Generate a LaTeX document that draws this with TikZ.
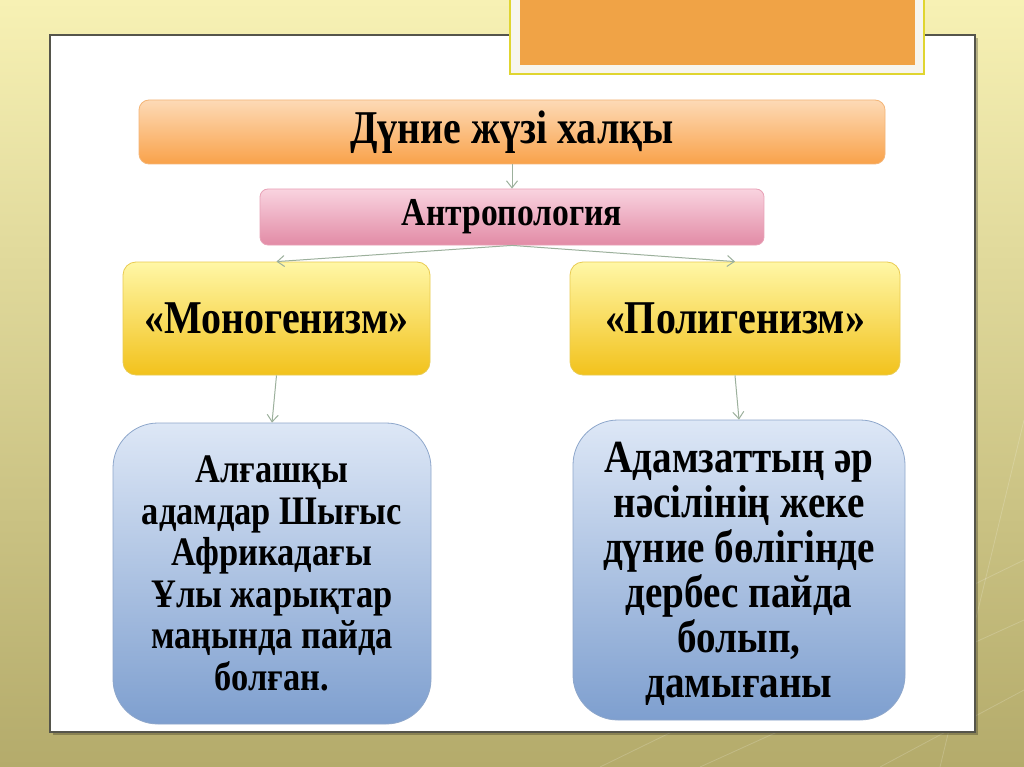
\documentclass[tikz,border=0pt]{standalone}
\usepackage{fontspec}
\setmainfont[FakeStretch=0.85]{Liberation Serif}
\usetikzlibrary{arrows.meta}
\definecolor{bgtop}{HTML}{F7F1B4}
\definecolor{bgbot}{HTML}{B4AB6B}
\definecolor{panelline}{HTML}{55554B}
\definecolor{hdrorange}{HTML}{F0A346}
\definecolor{hdrframe}{HTML}{E0D530}
\definecolor{hdrfill}{HTML}{F7F5EE}
\definecolor{orTop}{HTML}{FDDAB6}
\definecolor{orBot}{HTML}{F9A24A}
\definecolor{orLine}{HTML}{F4B577}
\definecolor{pkTop}{HTML}{F9D3DF}
\definecolor{pkMid}{HTML}{F191AF}
\definecolor{pkBot}{HTML}{E28BA6}
\definecolor{pkLine}{HTML}{E8A2B7}
\definecolor{ylTop}{HTML}{FFF7A6}
\definecolor{ylBot}{HTML}{F2C21C}
\definecolor{ylLine}{HTML}{E9CB50}
\definecolor{blTop}{HTML}{DDE7F6}
\definecolor{blBot}{HTML}{7E9FCF}
\definecolor{blLine}{HTML}{8EA7CB}
\definecolor{conn}{HTML}{9CB09C}
\tikzset{
  box/.style={rectangle, draw, line width=0.8pt, align=center, inner sep=4pt, text=black},
  orangebox/.style={box, draw=orLine, top color=orTop, bottom color=orBot, rounded corners=10pt},
  pinkbox/.style={box, draw=pkLine, top color=pkTop, middle color=pkMid, bottom color=pkBot, rounded corners=8pt},
  yellowbox/.style={box, draw=ylLine, top color=ylTop, bottom color=ylBot, rounded corners=13pt},
  bluebox/.style={box, draw=blLine, top color=blTop, bottom color=blBot, rounded corners=45pt},
  link/.style={draw=conn, line width=1pt, -{Straight Barb[length=7pt,width=11pt,line width=1pt]}},
}
\begin{document}
\begin{tikzpicture}[x=1pt,y=-1pt]
\useasboundingbox (0,0) rectangle (1024,767);
% background
\shade[top color=bgtop, bottom color=bgbot] (0,0) rectangle (1024,767);
\foreach \a/\b/\c/\d in {600/767/1024/560, 700/767/1024/620, 880/767/1024/690, 940/767/1024/420}
  \draw[white, opacity=0.18, line width=0.8pt] (\a,\b) -- (\c,\d);
% panel
\fill[black, opacity=0.25] (53,38) rectangle (978,735);
\draw[panelline, line width=1.2pt, fill=white] (50,35) rectangle (975,732);
% header
\draw[hdrframe, line width=1.5pt, fill=hdrfill] (510,-5) rectangle (924,74);
\fill[hdrorange] (520,-5) rectangle (915,65);
% nodes
\node[orangebox, minimum width=746pt, minimum height=64pt, font=\fontsize{47}{50}\selectfont\bfseries] (top) at (512,132) {Дүние жүзі халқы};
\node[pinkbox, minimum width=504pt, minimum height=56pt, font=\fontsize{39.5}{42}\selectfont\bfseries] (anth) at (512,217) {Антропология};
\node[yellowbox, minimum width=307pt, minimum height=113pt, font=\fontsize{47}{50}\selectfont\bfseries] (mono) at (276.5,318.5) {«Моногенизм»};
\node[yellowbox, minimum width=330pt, minimum height=113pt, font=\fontsize{47}{50}\selectfont\bfseries] (poly) at (735,318.5) {«Полигенизм»};
\node[bluebox, minimum width=318pt, minimum height=301pt, font=\fontsize{40.5}{41.6}\selectfont\bfseries] (lb) at (272,573.5) {Алғашқы\\адамдар Шығыс\\Африкадағы\\Ұлы жарықтар\\маңында пайда\\болған.};
\node[bluebox, minimum width=332pt, minimum height=300pt, font=\fontsize{46}{45}\selectfont\bfseries, text depth=0pt] (rb) at (739,570) {Адамзаттың әр\\нәсілінің жеке\\дүние бөлігінде\\дербес пайда\\болып,\\дамығаны};
% connectors
\draw[link] (top.south) -- (anth.north);
\draw[link] (anth.south) -- (mono.north);
\draw[link] (anth.south) -- (poly.north);
\draw[link] (mono.south) -- (lb.north);
\draw[link] (poly.south) -- (rb.north);
\end{tikzpicture}
\end{document}
